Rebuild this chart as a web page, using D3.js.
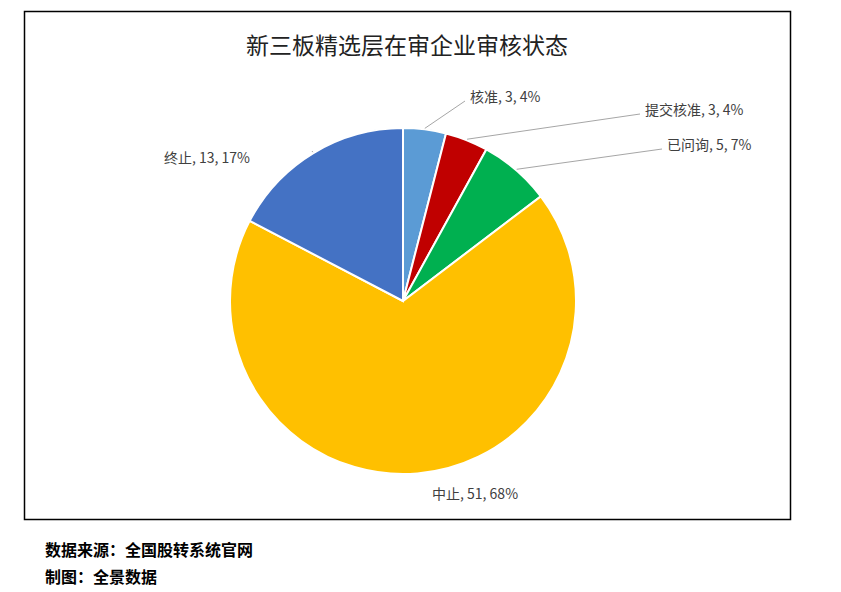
<!DOCTYPE html>
<html><head><meta charset="utf-8">
<script src="https://cdn.jsdelivr.net/npm/d3@7"></script>
<style>body{margin:0;background:#fff;font-family:"Noto Sans CJK SC","Noto Sans",sans-serif}</style>
</head><body><div id="chart"></div>
<script>
const categories = ['核准', '提交核准', '已问询', '中止', '终止'];
const counts = [3, 3, 5, 51, 13];
const percents = ['4%', '4%', '7%', '68%', '17%'];
const colors = ['#5B9BD5', '#C00000', '#00B050', '#FFC000', '#4472C4'];

// label layout: text anchor point and where the leader line ends
const labelPos = [
  {x: 470, y: 97, anchor: 'start', lx: 465, ly: 101},
  {x: 645, y: 110, anchor: 'start', lx: 640, ly: 114},
  {x: 667, y: 145, anchor: 'start', lx: 662, ly: 149},
  {x: 432, y: 494, anchor: 'start', lx: null},
  {x: 250, y: 158, anchor: 'end', lx: 312, ly: 151}
];

const W = 841, H = 592, cx = 403, cy = 301, R = 173;
const svg = d3.select('#chart').append('svg').attr('width', W).attr('height', H);

svg.append('rect').attr('x', 24.5).attr('y', 11.5).attr('width', 766).attr('height', 508)
  .attr('fill', '#fff').attr('stroke', '#000').attr('stroke-width', 1.5);

svg.append('text').attr('x', 407).attr('y', 54).attr('text-anchor', 'middle')
  .attr('font-size', 23).attr('fill', '#222').text('新三板精选层在审企业审核状态');

const data = categories.map((c, i) => ({c, v: counts[i], p: percents[i], col: colors[i], pos: labelPos[i]}));
const arcs = d3.pie().value(d => d.v).sort(null)(data);
const arc = d3.arc().innerRadius(0).outerRadius(R);
const g = svg.append('g').attr('transform', `translate(${cx},${cy})`);

g.selectAll('path').data(arcs).enter().append('path')
  .attr('d', arc).attr('fill', d => d.data.col)
  .attr('stroke', '#fff').attr('stroke-width', 2);

arcs.forEach(a => {
  const d = a.data;
  if (d.pos.lx != null) {
    const m = (a.startAngle + a.endAngle) / 2;
    const sx = cx + Math.sin(m) * (R + 1), sy = cy - Math.cos(m) * (R + 1);
    svg.append('line').attr('x1', sx).attr('y1', sy).attr('x2', d.pos.lx).attr('y2', d.pos.ly)
      .attr('stroke', '#a6a6a6').attr('stroke-width', 1);
  }
  svg.append('text').attr('x', d.pos.x).attr('y', d.pos.y + 5)
    .attr('text-anchor', d.pos.anchor).attr('font-size', 14).attr('fill', '#404040')
    .text(`${d.c}, ${d.v}, ${d.p}`);
});

svg.append('text').attr('x', 45).attr('y', 556).attr('font-size', 16).attr('font-weight', 'bold')
  .text('数据来源：全国股转系统官网');
svg.append('text').attr('x', 45).attr('y', 583).attr('font-size', 16).attr('font-weight', 'bold')
  .text('制图：全景数据');
</script></body></html>
